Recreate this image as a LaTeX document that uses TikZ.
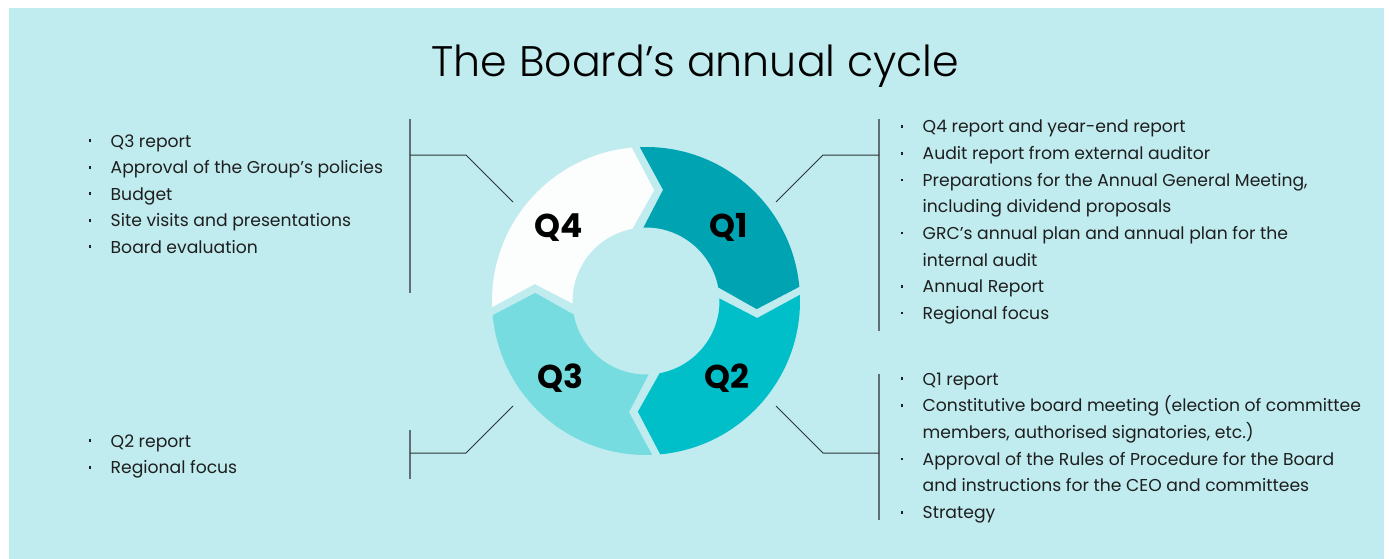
\documentclass[tikz,border=0pt]{standalone}
\usepackage{fontspec}
\setmainfont{Poppins}
\newfontfamily\titlefont{Poppins Light}

\definecolor{bgc}{HTML}{C0ECEF}
\definecolor{qonec}{HTML}{00A3B1}
\definecolor{qtwoc}{HTML}{00BFC8}
\definecolor{qthreec}{HTML}{76DCE0}
\definecolor{qfourc}{HTML}{FCFEFE}
\definecolor{txtc}{HTML}{1E1E1E}
\definecolor{barc}{HTML}{5D6F72}
\definecolor{leadc}{HTML}{2A3436}

% bullet marker and continuation indent for the lists
\newcommand\itm{\makebox[22pt][l]{\rule[5pt]{2.6pt}{2.6pt}}}
\newcommand\cnt{\hspace*{22pt}}

\begin{document}
\begin{tikzpicture}[x=1pt,y=1pt,
  titletext/.style={inner sep=0pt, anchor=base, text=black,
    font=\titlefont\fontsize{42.7}{50}\selectfont},
  qlabel/.style={inner sep=0pt, anchor=base, text=black,
    font=\bfseries\fontsize{33}{38}\selectfont},
  listline/.style={inner sep=0pt, anchor=base west, text=txtc,
    font=\fontsize{17.2}{20}\selectfont},
  bar/.style={draw=barc, line width=1.6pt},
  lead/.style={draw=leadc, line width=1pt}]

\useasboundingbox (0,0) rectangle (1389,-559);
\fill[bgc] (9,-8) rectangle (1384,-559);

\node[titletext] (title) at (695.5,-77) {The Board’s annual cycle};

% four arrow-shaped quarters of the ring, running clockwise
\begin{scope}[shift={(646,-301)}]
  \foreach \R/\c in {0/qfourc, -90/qonec, -180/qtwoc, 90/qthreec} {
    \fill[\c] ({182.3+\R}:154) arc[start angle={182.3+\R}, end angle={95.3+\R}, radius=154]
      -- ({85.8+\R}:111) -- ({100.7+\R}:73.5)
      arc[start angle={100.7+\R}, end angle={182+\R}, radius=73.5]
      -- ({171.3+\R}:112.5) -- cycle;
  }
\end{scope}

\node[qlabel] (q4) at (559,-237) {Q4};
\node[qlabel] (q1) at (729,-237) {Q1};
\node[qlabel] (q2) at (727,-388) {Q2};
\node[qlabel] (q3) at (560,-388) {Q3};

% bracket leaders
\coordinate (tlbarT) at (410,-119);
\coordinate (tlbarB) at (410,-293);
\coordinate (tlknee) at (466,-155);
\coordinate (tlend) at (513,-202);
\coordinate (tlbarM) at (410,-155);
\draw[bar] (tlbarT) -- (tlbarB);
\draw[lead] (tlbarM) -- (tlknee) -- (tlend);

\coordinate (trbarT) at (879,-119);
\coordinate (trbarB) at (879,-331);
\coordinate (trknee) at (823,-155);
\coordinate (trend) at (776,-202);
\coordinate (trbarM) at (879,-155);
\draw[bar] (trbarT) -- (trbarB);
\draw[lead] (trbarM) -- (trknee) -- (trend);

\coordinate (brbarT) at (879,-374);
\coordinate (brbarB) at (879,-520);
\coordinate (brknee) at (823,-453);
\coordinate (brend) at (776,-406);
\coordinate (brbarM) at (879,-453);
\draw[bar] (brbarT) -- (brbarB);
\draw[lead] (brbarM) -- (brknee) -- (brend);

\coordinate (blbarT) at (410,-430);
\coordinate (blbarB) at (410,-479);
\coordinate (blknee) at (466,-453);
\coordinate (blend) at (513,-406);
\coordinate (blbarM) at (410,-453);
\draw[bar] (blbarT) -- (blbarB);
\draw[lead] (blbarM) -- (blknee) -- (blend);

% Q4 list
\foreach \b/\t [count=\i] in {1/{Q3 report}, 1/{Approval of the Group’s policies},
    1/{Budget}, 1/{Site visits and presentations}, 1/{Board evaluation}}
  \node[listline] (ltop\i) at (88.5,{-147-26.5*(\i-1)}) {\ifnum\b=1 \itm\else\cnt\fi\t};

% Q1 list
\foreach \b/\t [count=\i] in {1/{Q4 report and year-end report},
    1/{Audit report from external auditor},
    1/{Preparations for the Annual General Meeting,},
    0/{including dividend proposals},
    1/{GRC’s annual plan and annual plan for the},
    0/{internal audit},
    1/{Annual Report}, 1/{Regional focus}}
  \node[listline] (rtop\i) at (900.5,{-133-26.6*(\i-1)}) {\ifnum\b=1 \itm\else\cnt\fi\t};

% Q2 list
\foreach \b/\t [count=\i] in {1/{Q1 report},
    1/{Constitutive board meeting (election of committee},
    0/{members, authorised signatories, etc.)},
    1/{Approval of the Rules of Procedure for the Board},
    0/{and instructions for the CEO and committees},
    1/{Strategy}}
  \node[listline] (rbot\i) at (900.5,{-385-26.7*(\i-1)}) {\ifnum\b=1 \itm\else\cnt\fi\t};

% Q3 list
\foreach \b/\t [count=\i] in {1/{Q2 report}, 1/{Regional focus}}
  \node[listline] (lbot\i) at (88.5,{-447-26.5*(\i-1)}) {\ifnum\b=1 \itm\else\cnt\fi\t};

\end{tikzpicture}
\end{document}
